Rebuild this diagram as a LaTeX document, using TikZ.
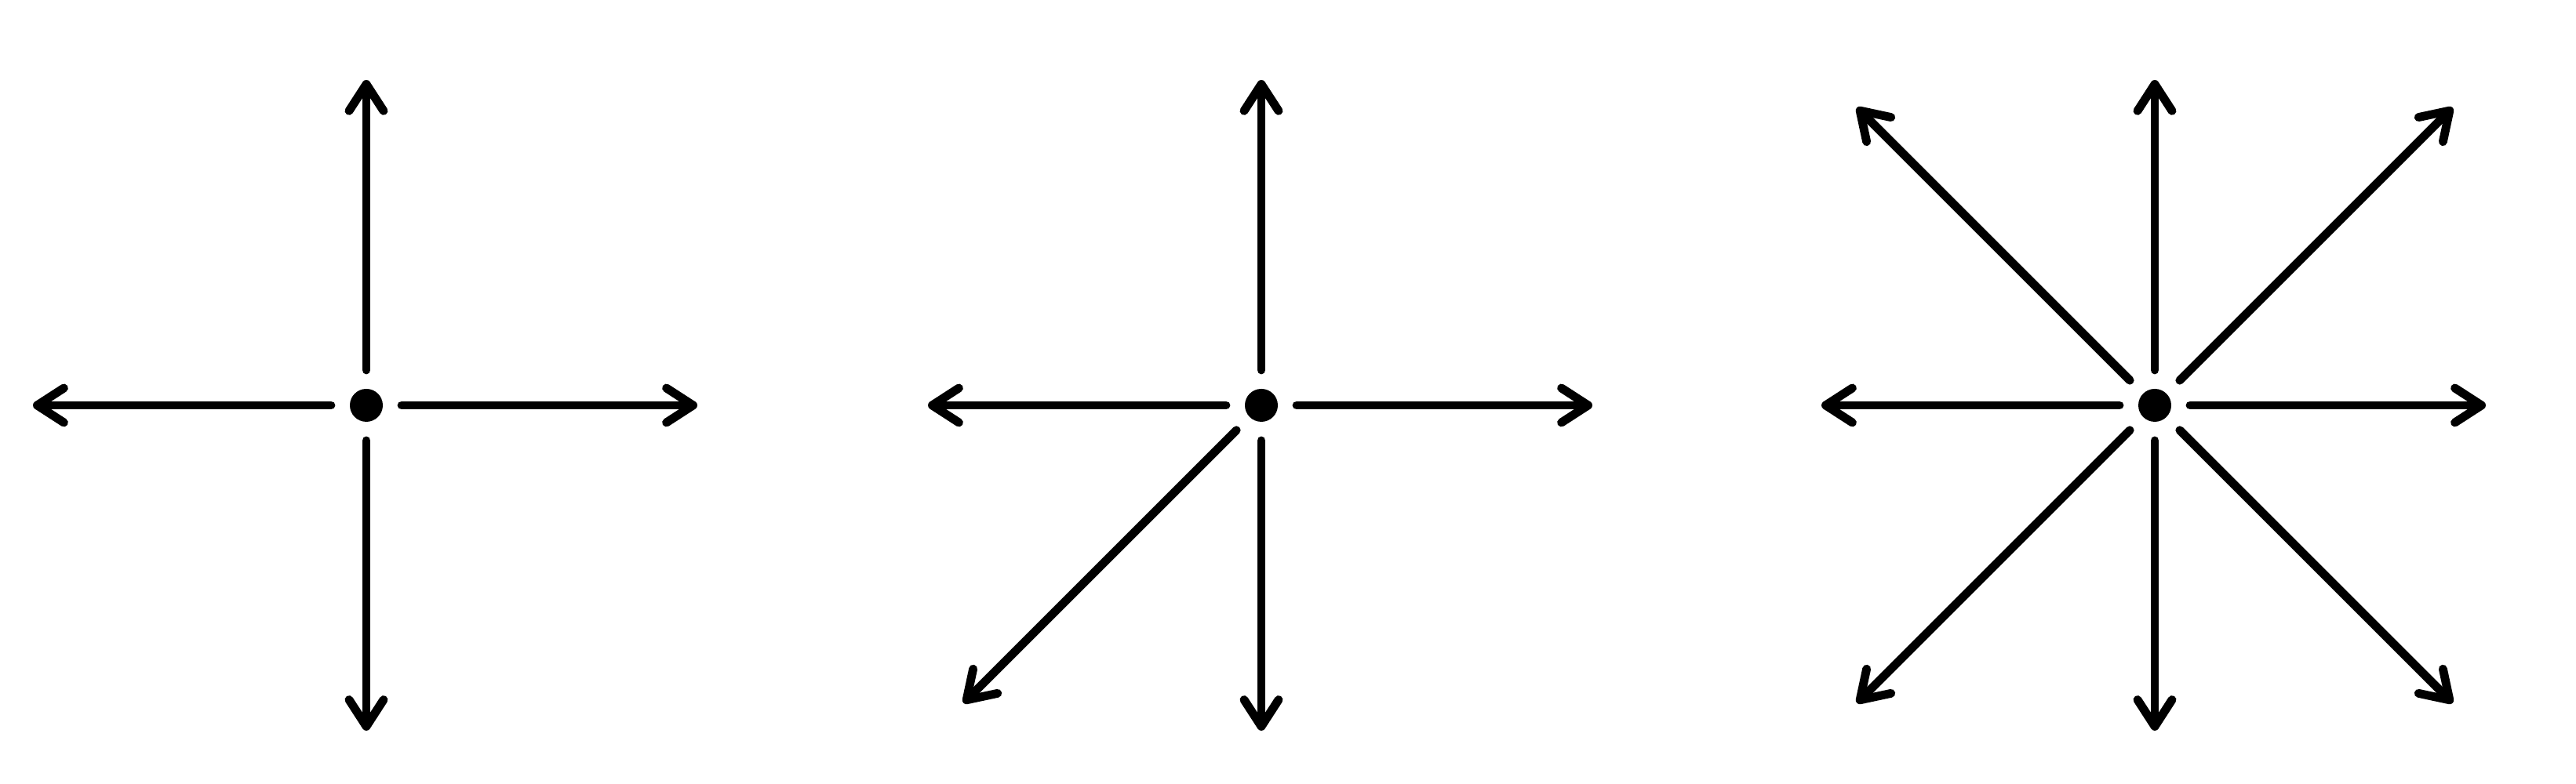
\documentclass[tikz,border=0pt]{standalone}
\usetikzlibrary{arrows.meta}
\tikzset{
    hub/.style={circle, fill=black, inner sep=0pt, minimum size=4.2mm, outer sep=2.4mm},
    ray/.style={line width=3.1pt, line cap=round, line join=round,
        -{Straight Barb[length=3.4mm, width=4.4mm, round]}},
}
\begin{document}
\begin{tikzpicture}
        \useasboundingbox (0,0) rectangle (32.84,10);
        % four ways
        \node[hub] (hubA) at (4.67,4.83) {};
        \foreach \a/\r in {0/4.22,90/4.15,180/4.25,270/4.15} {
            \coordinate (hubA-\a) at ([shift={(\a:\r)}]hubA.center);
            \draw[ray] (hubA.\a) -- (hubA-\a);
        }
        % five ways
        \node[hub] (hubB) at (16.08,4.83) {};
        \foreach \a/\r in {0/4.22,90/4.15,180/4.25,225/5.37,270/4.15} {
            \coordinate (hubB-\a) at ([shift={(\a:\r)}]hubB.center);
            \draw[ray] (hubB.\a) -- (hubB-\a);
        }
        % eight ways
        \node[hub] (hubC) at (27.47,4.83) {};
        \foreach \a/\r in {0/4.22,45/5.37,90/4.15,135/5.37,180/4.25,225/5.37,270/4.15,315/5.37} {
            \coordinate (hubC-\a) at ([shift={(\a:\r)}]hubC.center);
            \draw[ray] (hubC.\a) -- (hubC-\a);
        }
\end{tikzpicture}
\end{document}
